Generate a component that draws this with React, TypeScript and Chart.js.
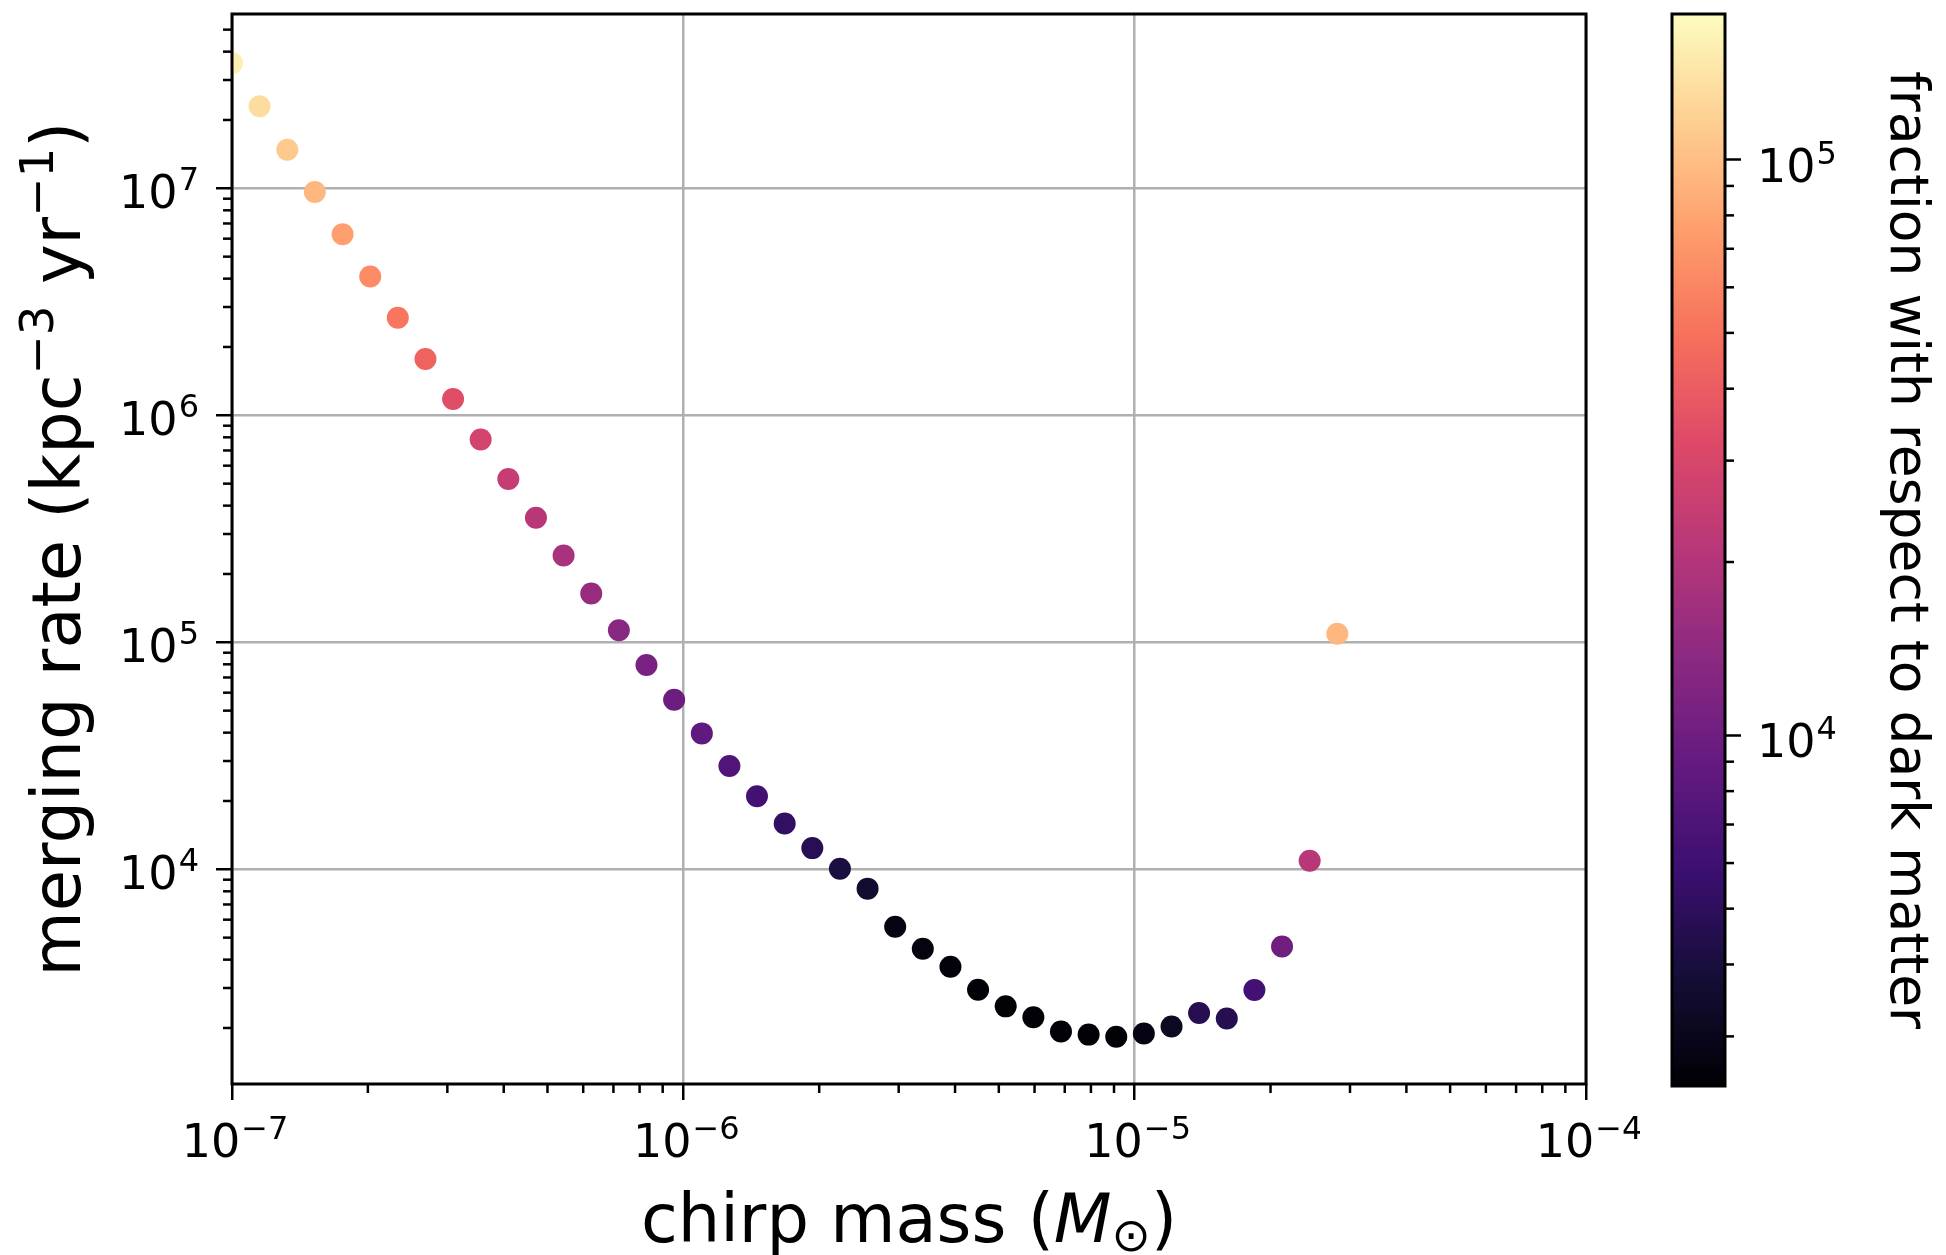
import React, { useEffect, useRef } from 'react';
import { Chart, registerables } from 'chart.js';

Chart.register(...registerables);

// ---- data ----
const chirpMass = [
  1.0e-7, 1.151e-7, 1.326e-7, 1.526e-7, 1.758e-7, 2.024e-7, 2.33e-7, 2.683e-7, 3.089e-7, 3.556e-7,
  4.095e-7, 4.715e-7, 5.429e-7, 6.251e-7, 7.197e-7, 8.286e-7, 9.541e-7, 1.099e-6, 1.265e-6, 1.456e-6,
  1.677e-6, 1.931e-6, 2.223e-6, 2.56e-6, 2.947e-6, 3.393e-6, 3.907e-6, 4.498e-6, 5.179e-6, 5.964e-6,
  6.866e-6, 7.906e-6, 9.103e-6, 1.048e-5, 1.207e-5, 1.389e-5, 1.6e-5, 1.842e-5, 2.121e-5, 2.442e-5,
  2.812e-5,
];
const mergingRate = [
  3.56e7, 2.3e7, 1.48e7, 9.64e6, 6.27e6, 4.09e6, 2.69e6, 1.77e6, 1.18e6, 7.83e5,
  5.24e5, 3.54e5, 2.41e5, 1.64e5, 1.13e5, 7.95e4, 5.58e4, 3.97e4, 2.85e4, 2.1e4,
  1.59e4, 1.24e4, 1.006e4, 8.22e3, 5.58e3, 4.47e3, 3.72e3, 2.95e3, 2.49e3, 2.23e3,
  1.93e3, 1.87e3, 1.83e3, 1.89e3, 2.03e3, 2.33e3, 2.2e3, 2.94e3, 4.57e3, 1.09e4,
  1.09e5,
];
const darkMatterFraction = [
  1.57e5, 1.32e5, 1.11e5, 9.4e4, 7.6e4, 6.4e4, 5.2e4, 4.25e4, 3.36e4, 2.83e4,
  2.44e4, 2.09e4, 1.8e4, 1.52e4, 1.31e4, 1.13e4, 9.7e3, 8.5e3, 7.3e3, 6.3e3,
  5.3e3, 4.7e3, 4.1e3, 3.6e3, 2.8e3, 2.7e3, 2.6e3, 2.55e3, 2.5e3, 2.5e3,
  2.5e3, 2.5e3, 2.5e3, 2.8e3, 3.2e3, 4.6e3, 4.6e3, 6.3e3, 1.0e4, 2.1e4,
  9.4e4,
];

const X_MAJOR = [1e-7, 1e-6, 1e-5, 1e-4];
const X_MAJOR_LABELS = ['10^−7', '10^−6', '10^−5', '10^−4'];
const Y_MAJOR = [1e4, 1e5, 1e6, 1e7];
const Y_MAJOR_LABELS = ['10^4', '10^5', '10^6', '10^7'];
const CB_MAJOR = [1e4, 1e5];
const CB_MAJOR_LABELS = ['10^4', '10^5'];
const MINOR_STEPS = [1, 2, 3, 4, 5, 6, 7, 8, 9];

const X_MIN = 1e-7;
const X_MAX = 1e-4;
const Y_MIN = 1133;
const Y_MAX = 5.86e7;
const CB_MIN = 2460;
const CB_MAX = 1.79e5;

const X_TITLE = ['chirp mass (', 'M', '⊙', ')'];
const Y_TITLE = ['merging rate (kpc', '−3', ' yr', '−1', ')'];
const CB_TITLE = 'fraction with respect to dark matter';

const MAGMA = ['#000004', '#140e36', '#3b0f70', '#641a80', '#8c2981', '#b73779', '#de4968', '#f7705c', '#fe9f6d', '#fecf92', '#fcfdbf'];

const FONT = 'DejaVu Sans';
const TICK_SIZE = 46;
const SUP_SIZE = 32;
const SUP_RISE = 18;

function hexToRgb(h: string) {
  return [parseInt(h.slice(1, 3), 16), parseInt(h.slice(3, 5), 16), parseInt(h.slice(5, 7), 16)];
}
function magma(t: number) {
  const tt = Math.min(1, Math.max(0, t)) * (MAGMA.length - 1);
  const i = Math.min(MAGMA.length - 2, Math.floor(tt));
  const f = tt - i;
  const a = hexToRgb(MAGMA[i]);
  const b = hexToRgb(MAGMA[i + 1]);
  const c = a.map((v, k) => Math.round(v + (b[k] - v) * f));
  return `rgb(${c[0]},${c[1]},${c[2]})`;
}
function colorFor(v: number) {
  const t = (Math.log10(v) - Math.log10(CB_MIN)) / (Math.log10(CB_MAX) - Math.log10(CB_MIN));
  return magma(t);
}

function logTicks(min: number, max: number, majors: number[]) {
  const out: any[] = [];
  const d0 = Math.floor(Math.log10(min));
  const d1 = Math.ceil(Math.log10(max));
  for (let d = d0; d <= d1; d++) {
    for (const m of MINOR_STEPS) {
      const v = m * Math.pow(10, d);
      if (v >= min * (1 - 1e-9) && v <= max * (1 + 1e-9)) {
        out.push({ value: v, major: majors.some((mj) => Math.abs(mj - v) / mj < 1e-6) });
      }
    }
  }
  return out;
}

const minorTickPlugin = {
  id: 'minorTicks',
  afterDraw(chart: any) {
    const ctx = chart.ctx;
    ctx.save();
    ctx.strokeStyle = '#000';
    ctx.lineWidth = 2.5;
    const len = 9;
    Object.values(chart.scales).forEach((s: any) => {
      if (!s.options.display || s.type !== 'logarithmic') return;
      s.ticks.forEach((t: any) => {
        if (t.major) return;
        const p = s.getPixelForValue(t.value);
        ctx.beginPath();
        if (s.isHorizontal()) {
          ctx.moveTo(p, s.top);
          ctx.lineTo(p, s.top + len);
        } else if (s.position === 'left') {
          ctx.moveTo(s.right, p);
          ctx.lineTo(s.right - len, p);
        } else {
          ctx.moveTo(s.left, p);
          ctx.lineTo(s.left + len, p);
        }
        ctx.stroke();
      });
    });
    ctx.restore();
  },
};

const framePlugin = {
  id: 'frame',
  afterDraw(chart: any) {
    const { ctx, chartArea: ca } = chart;
    ctx.save();
    ctx.strokeStyle = '#000';
    ctx.lineWidth = 3;
    ctx.strokeRect(ca.left, ca.top, ca.right - ca.left, ca.bottom - ca.top);
    ctx.restore();
  },
};

// tick labels with mathtext-like superscripts, positioned via the chart's scales
type TickSpec = { scaleId: string; majors: number[]; labels: string[] };
function makeMathTickPlugin(specs: TickSpec[]) {
  return {
    id: 'mathTicks',
    afterDraw(chart: any) {
      const ctx = chart.ctx;
      ctx.save();
      ctx.fillStyle = '#000';
      ctx.textBaseline = 'alphabetic';
      ctx.textAlign = 'left';
      specs.forEach((spec) => {
        const s = chart.scales[spec.scaleId];
        if (!s) return;
        spec.majors.forEach((v, i) => {
          const [base, exp] = spec.labels[i].split('^');
          const p = s.getPixelForValue(v);
          ctx.font = `${TICK_SIZE}px "${FONT}"`;
          const bw = ctx.measureText(base).width;
          ctx.font = `${SUP_SIZE}px "${FONT}"`;
          const ew = ctx.measureText(exp).width;
          const total = bw + ew + 1;
          let x0: number;
          let yb: number;
          if (s.isHorizontal()) {
            x0 = p - total / 2 + 3;
            yb = s.top + 73;
          } else if (s.position === 'left') {
            x0 = s.right - 33 - total;
            yb = p + 20;
          } else {
            x0 = s.left + 32;
            yb = p + 22;
          }
          ctx.font = `${TICK_SIZE}px "${FONT}"`;
          ctx.fillText(base, x0, yb);
          ctx.font = `${SUP_SIZE}px "${FONT}"`;
          ctx.fillText(exp, x0 + bw + 1, yb - SUP_RISE);
        });
      });
      ctx.restore();
    },
  };
}

type Piece = { text: string; size: number; italic?: boolean; rise?: number };
function drawRich(ctx: CanvasRenderingContext2D, pieces: Piece[]) {
  const widths = pieces.map((p) => {
    ctx.font = `${p.italic ? 'italic ' : ''}${p.size}px "${FONT}"`;
    return ctx.measureText(p.text).width;
  });
  const total = widths.reduce((a, b) => a + b, 0);
  let x = -total / 2;
  pieces.forEach((p, i) => {
    ctx.font = `${p.italic ? 'italic ' : ''}${p.size}px "${FONT}"`;
    ctx.fillText(p.text, x, -(p.rise || 0));
    x += widths[i];
  });
}

const titlePlugin = {
  id: 'richTitles',
  afterDraw(chart: any) {
    const { ctx, chartArea: ca } = chart;
    ctx.save();
    ctx.fillStyle = '#000';
    ctx.textBaseline = 'alphabetic';
    ctx.textAlign = 'left';
    const S = 67;
    ctx.save();
    ctx.translate((ca.left + ca.right) / 2, 1242);
    drawRich(ctx, [
      { text: X_TITLE[0], size: S },
      { text: X_TITLE[1], size: S, italic: true },
      { text: X_TITLE[2], size: S * 0.7, rise: -9 },
      { text: X_TITLE[3], size: S },
    ]);
    ctx.restore();
    ctx.save();
    ctx.translate(80, (ca.top + ca.bottom) / 2);
    ctx.rotate(-Math.PI / 2);
    drawRich(ctx, [
      { text: Y_TITLE[0], size: S },
      { text: Y_TITLE[1], size: S * 0.7, rise: 27 },
      { text: Y_TITLE[2], size: S },
      { text: Y_TITLE[3], size: S * 0.7, rise: 27 },
      { text: Y_TITLE[4], size: S },
    ]);
    ctx.restore();
    ctx.restore();
  },
};

const zeroPad = (s: any) => {
  s.paddingTop = 0;
  s.paddingBottom = 0;
  s.paddingLeft = 0;
  s.paddingRight = 0;
};

export default function App() {
  const mainRef = useRef<HTMLCanvasElement>(null);
  const cbRef = useRef<HTMLCanvasElement>(null);

  useEffect(() => {
    const hiddenTicks = { display: false, autoSkip: false, maxRotation: 0, minRotation: 0 };
    const main = new Chart(mainRef.current as HTMLCanvasElement, {
      type: 'scatter',
      data: {
        datasets: [
          {
            data: chirpMass.map((x, i) => ({ x, y: mergingRate[i] })),
            pointBackgroundColor: darkMatterFraction.map(colorFor),
            pointBorderWidth: 0,
            pointRadius: 11,
            pointHoverRadius: 11,
            clip: 0,
          } as any,
        ],
      },
      options: {
        animation: false,
        responsive: false,
        events: [],
        layout: { padding: { left: 0, top: 14, right: 54, bottom: 0 } },
        plugins: { legend: { display: false }, tooltip: { enabled: false } },
        scales: {
          x: {
            type: 'logarithmic',
            min: X_MIN,
            max: X_MAX,
            z: 1,
            afterBuildTicks: (s: any) => {
              s.ticks = logTicks(X_MIN, X_MAX, X_MAJOR);
            },
            afterFit: (s: any) => {
              s.height = 171;
              zeroPad(s);
            },
            border: { display: false },
            grid: {
              color: (c: any) => (c.tick && c.tick.major ? '#b0b0b0' : 'rgba(0,0,0,0)'),
              tickColor: (c: any) => (c.tick && c.tick.major ? '#000' : 'rgba(0,0,0,0)'),
              lineWidth: 2.5,
              tickWidth: 2.5,
              tickLength: 16,
            },
            ticks: hiddenTicks,
          },
          y: {
            type: 'logarithmic',
            min: Y_MIN,
            max: Y_MAX,
            z: 1,
            afterBuildTicks: (s: any) => {
              s.ticks = logTicks(Y_MIN, Y_MAX, Y_MAJOR);
            },
            afterFit: (s: any) => {
              s.width = 232;
              zeroPad(s);
            },
            border: { display: false },
            grid: {
              color: (c: any) => (c.tick && c.tick.major ? '#b0b0b0' : 'rgba(0,0,0,0)'),
              tickColor: (c: any) => (c.tick && c.tick.major ? '#000' : 'rgba(0,0,0,0)'),
              lineWidth: 2.5,
              tickWidth: 2.5,
              tickLength: 16,
            },
            ticks: hiddenTicks,
          },
        },
      } as any,
      plugins: [
        minorTickPlugin,
        framePlugin,
        titlePlugin,
        makeMathTickPlugin([
          { scaleId: 'x', majors: X_MAJOR, labels: X_MAJOR_LABELS },
          { scaleId: 'y', majors: Y_MAJOR, labels: Y_MAJOR_LABELS },
        ]),
      ],
    });

    const cb = new Chart(cbRef.current as HTMLCanvasElement, {
      type: 'bar',
      data: {
        labels: ['colorbar'],
        datasets: [
          {
            data: [[CB_MIN, CB_MAX]],
            barPercentage: 1,
            categoryPercentage: 1,
            borderWidth: 0,
            backgroundColor: (c: any) => {
              const ca = c.chart.chartArea;
              if (!ca) return '#000';
              const g = c.chart.ctx.createLinearGradient(0, ca.bottom, 0, ca.top);
              MAGMA.forEach((col, i) => g.addColorStop(i / (MAGMA.length - 1), col));
              return g;
            },
          } as any,
        ],
      },
      options: {
        animation: false,
        responsive: false,
        events: [],
        layout: { padding: { left: 32, top: 14, right: 0, bottom: 169 } },
        plugins: { legend: { display: false }, tooltip: { enabled: false } },
        scales: {
          x: { display: false },
          y: {
            type: 'logarithmic',
            position: 'right',
            min: CB_MIN,
            max: CB_MAX,
            afterBuildTicks: (s: any) => {
              s.ticks = logTicks(CB_MIN, CB_MAX, CB_MAJOR);
            },
            afterFit: (s: any) => {
              s.width = 221;
              zeroPad(s);
            },
            border: { display: false },
            grid: {
              drawOnChartArea: false,
              tickColor: (c: any) => (c.tick && c.tick.major ? '#000' : 'rgba(0,0,0,0)'),
              tickWidth: 2.5,
              tickLength: 16,
            },
            ticks: hiddenTicks,
            title: {
              display: true,
              text: CB_TITLE,
              color: '#000',
              font: { family: FONT, size: 53.5 },
              padding: { top: 9, bottom: 0 },
            },
          },
        },
      } as any,
      plugins: [
        minorTickPlugin,
        framePlugin,
        makeMathTickPlugin([{ scaleId: 'y', majors: CB_MAJOR, labels: CB_MAJOR_LABELS }]),
      ],
    });

    return () => {
      main.destroy();
      cb.destroy();
    };
  }, []);

  return (
    <div style={{ position: 'absolute', left: 0, top: 0, width: 1946, height: 1255, background: '#fff' }}>
      <canvas ref={mainRef} width={1640} height={1255} style={{ position: 'absolute', left: 0, top: 0, width: 1640, height: 1255 }} />
      <canvas ref={cbRef} width={306} height={1255} style={{ position: 'absolute', left: 1640, top: 0, width: 306, height: 1255 }} />
    </div>
  );
}
